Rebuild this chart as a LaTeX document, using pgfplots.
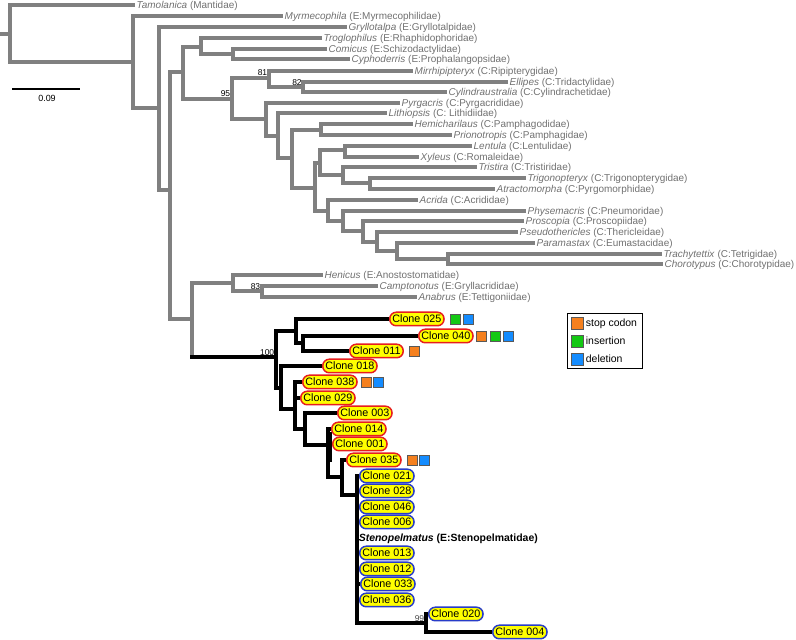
\documentclass[border=0pt]{standalone}
\usepackage{fontspec}
\setmainfont{Liberation Sans}
\usepackage{pgfplots}
\pgfplotsset{compat=1.18}
\definecolor{br}{RGB}{128,128,128}
\definecolor{lab}{RGB}{112,112,112}
\definecolor{oc}{RGB}{245,128,30}
\definecolor{gc}{RGB}{20,200,20}
\definecolor{bc}{RGB}{20,140,255}
\definecolor{pillred}{RGB}{230,30,30}
\definecolor{pillblue}{RGB}{40,60,200}
\definecolor{pillfill}{RGB}{255,255,0}
\tikzset{
  labst/.style={anchor=west, inner sep=0.5bp, text=lab, font=\fontsize{10}{12}\selectfont, text height=7.2bp, text depth=0bp},
  pill/.style={anchor=west, line width=1.5bp, fill=pillfill, rounded corners=6.5bp, inner xsep=2.6bp, inner ysep=0bp, minimum height=13.5bp, text height=7.7bp, text depth=0bp, font=\fontsize{10.8}{12}\selectfont},
}
\newcommand\lab[4]{\node[labst] at (axis cs:#1,#2) {\textit{#3} (#4)};}
\newcommand\rc[3]{\node[pill, draw=pillred] at (axis cs:#1,#2) {Clone #3};}
\newcommand\bcl[3]{\node[pill, draw=pillblue] at (axis cs:#1,#2) {Clone #3};}
\newcommand\bs[3]{\node[anchor=south east, inner sep=0.6bp, font=\fontsize{8.5}{9}\selectfont] at (axis cs:#1,#2) {#3};}
\begin{document}
\begin{tikzpicture}
\begin{axis}[
  width=796bp, height=640bp, scale only axis,
  xmin=0, xmax=796, ymin=0, ymax=640, y dir=reverse,
  hide axis, clip=false, unbounded coords=jump,
  legend style={at={(axis cs:567,313)}, anchor=north west, draw=black, line width=1.4bp, inner xsep=3.5bp, inner ysep=2.8bp, row sep=5bp, font=\fontsize{10.5}{12}\selectfont},
  legend cell align=left,
  legend image code/.code={\draw[#1, line width=0.7bp] (0bp,-6bp) rectangle (12bp,6bp);},
]
% grey branches
\addplot[forget plot, color=br, line width=3.2bp, line join=miter] coordinates {
(135,5)(10,5)(10,62)(133,62) (nan,nan)
(0,34)(10,34) (nan,nan)
(283,16)(133,16)(133,108)(159,108) (nan,nan)
(347,27)(159,27)(159,190)(170,190) (nan,nan)
(183,72)(170,72)(170,319)(192,319) (nan,nan)
(201,47)(183,47)(183,99)(232,99) (nan,nan)
(322,38)(201,38)(201,54)(233,54) (nan,nan)
(327,49)(233,49)(233,59)(350,59) (nan,nan)
(269,78)(232,78)(232,119)(266,119) (nan,nan)
(413,71)(269,71)(269,87)(303,87) (nan,nan)
(508,82)(303,82)(303,92)(447,92) (nan,nan)
(400,103)(266,103)(266,136)(278,136) (nan,nan)
(387,113)(278,113)(278,158)(292,158) (nan,nan)
(321,130)(292,130)(292,188)(315,188) (nan,nan)
(413,124)(321,124)(321,135)(452,135) (nan,nan)
(320,163)(315,163)(315,211)(328,211) (nan,nan)
(345,150)(320,150)(320,175)(343,175) (nan,nan)
(472,146)(345,146)(345,157)(419,157) (nan,nan)
(477,167)(343,167)(343,183)(370,183) (nan,nan)
(526,178)(370,178)(370,189)(495,189) (nan,nan)
(418,200)(328,200)(328,221)(343,221) (nan,nan)
(526,211)(343,211)(343,231)(363,231) (nan,nan)
(524,221)(363,221)(363,242)(377,242) (nan,nan)
(518,232)(377,232)(377,251)(397,251) (nan,nan)
(535,243)(397,243)(397,259)(448,259) (nan,nan)
(662,254)(448,254)(448,264)(663,264) (nan,nan)
(233,283)(192,283)(192,357) (nan,nan)
(323,275)(233,275)(233,291)(262,291) (nan,nan)
(378,286)(262,286)(262,297)(417,297)
};
% black branches
\addplot[forget plot, color=black, line width=3.2bp, line join=miter] coordinates {
(190.4,357)(276,357) (nan,nan)
(296,331)(276,331)(276,388)(281,388) (nan,nan)
(389,319)(296,319)(296,343)(303,343) (nan,nan)
(418,336)(303,336)(303,351)(349,351) (nan,nan)
(322,366)(281,366)(281,409)(295,409) (nan,nan)
(302,382)(295,382)(295,429)(305,429) (nan,nan)
(295,398)(300,398) (nan,nan)
(337,413)(305,413)(305,445)(328,445) (nan,nan)
(331,429)(328,429)(328,477)(342,477) (nan,nan)
(328,444)(332,444) (nan,nan)
(330.5,432)(330.5,462) (nan,nan)
(346,460)(342,460)(342,495)(357,495) (nan,nan)
(359,476)(357,476)(357,623)(426,623) (nan,nan)
(357,491)(359,491) (nan,nan)
(357,507)(359,507) (nan,nan)
(357,522)(359,522) (nan,nan)
(357,553)(359,553) (nan,nan)
(357,569)(359,569) (nan,nan)
(357,584)(360,584) (nan,nan)
(357,600)(359,600) (nan,nan)
(428,614)(426,614)(426,632)(492,632)
};
% scale bar
\addplot[forget plot, color=black, line width=1.6bp] coordinates {(12,89)(80,89)};
% indel markers
\addplot[forget plot, only marks, mark=square*, mark size=5bp, mark options={fill=oc, draw=black!65, line width=0.6bp}] coordinates {(414,351)(481,336)(366,382)(412,460)};
\addplot[forget plot, only marks, mark=square*, mark size=5bp, mark options={fill=gc, draw=black!65, line width=0.6bp}] coordinates {(455,319)(495,336)};
\addplot[forget plot, only marks, mark=square*, mark size=5bp, mark options={fill=bc, draw=black!65, line width=0.6bp}] coordinates {(468,319)(508,336)(378,382)(424,460)};
% legend
\addlegendimage{fill=oc, draw=black!65}
\addlegendentry{stop codon}
\addlegendimage{fill=gc, draw=black!65}
\addlegendentry{insertion}
\addlegendimage{fill=bc, draw=black!65}
\addlegendentry{deletion}
% taxon labels
\lab{136}{5}{Tamolanica}{Mantidae}
\lab{284}{16}{Myrmecophila}{E:Myrmecophilidae}
\lab{348}{27}{Gryllotalpa}{E:Gryllotalpidae}
\lab{323}{38}{Troglophilus}{E:Rhaphidophoridae}
\lab{328}{49}{Comicus}{E:Schizodactylidae}
\lab{351}{59}{Cyphoderris}{E:Prophalangopsidae}
\lab{414}{71}{Mirrhipipteryx}{C:Ripipterygidae}
\lab{509}{82}{Ellipes}{C:Tridactylidae}
\lab{448}{92}{Cylindraustralia}{C:Cylindrachetidae}
\lab{401}{103}{Pyrgacris}{C:Pyrgacrididae}
\lab{388}{113}{Lithiopsis}{C: Lithidiidae}
\lab{414}{124}{Hemicharilaus}{C:Pamphagodidae}
\lab{453}{135}{Prionotropis}{C:Pamphagidae}
\lab{473}{146}{Lentula}{C:Lentulidae}
\lab{420}{157}{Xyleus}{C:Romaleidae}
\lab{478}{167}{Tristira}{C:Tristiridae}
\lab{527}{178}{Trigonopteryx}{C:Trigonopterygidae}
\lab{496}{189}{Atractomorpha}{C:Pyrgomorphidae}
\lab{419}{200}{Acrida}{C:Acrididae}
\lab{527}{211}{Physemacris}{C:Pneumoridae}
\lab{525}{221}{Proscopia}{C:Proscopiidae}
\lab{519}{232}{Pseudothericles}{C:Thericleidae}
\lab{536}{243}{Paramastax}{C:Eumastacidae}
\lab{663}{254}{Trachytettix}{C:Tetrigidae}
\lab{664}{264}{Chorotypus}{C:Chorotypidae}
\lab{324}{275}{Henicus}{E:Anostostomatidae}
\lab{379}{286}{Camptonotus}{E:Gryllacrididae}
\lab{418}{297}{Anabrus}{E:Tettigoniidae}
% bootstrap values
\bs{231}{97.5}{95}
\bs{268}{76.5}{81}
\bs{302.5}{86.5}{82}
\bs{261}{290.5}{83}
\bs{275}{356}{100}
\node[anchor=south east, inner sep=0.6bp, text=black!70, font=\fontsize{8.5}{9}\selectfont] at (axis cs:425,622) {99};
% scale bar label
\node[font=\fontsize{9}{10}\selectfont] at (axis cs:47,98.5) {0.09};
% clones
\rc{389}{319}{025}
\rc{418}{336}{040}
\rc{349}{351}{011}
\rc{322}{366}{018}
\rc{302}{382}{038}
\rc{300}{398}{029}
\rc{337}{413}{003}
\rc{331}{429}{014}
\rc{332}{444}{001}
\rc{346}{460}{035}
\bcl{359}{476}{021}
\bcl{359}{491}{028}
\bcl{359}{507}{046}
\bcl{359}{522}{006}
\bcl{359}{553}{013}
\bcl{359}{569}{012}
\bcl{360}{584}{033}
\bcl{359}{600}{036}
\bcl{428}{614}{020}
\bcl{492}{632}{004}
\node[anchor=west, inner sep=0.6bp, font=\bfseries\fontsize{10.5}{12}\selectfont, text height=7.5bp, text depth=0bp] at (axis cs:358,538) {\textit{Stenopelmatus} (E:Stenopelmatidae)};
\coordinate (SW) at (rel axis cs:0,0);
\coordinate (NE) at (rel axis cs:1,1);
\end{axis}
\pgfresetboundingbox
\path (SW) rectangle (NE);
\end{tikzpicture}
\end{document}
